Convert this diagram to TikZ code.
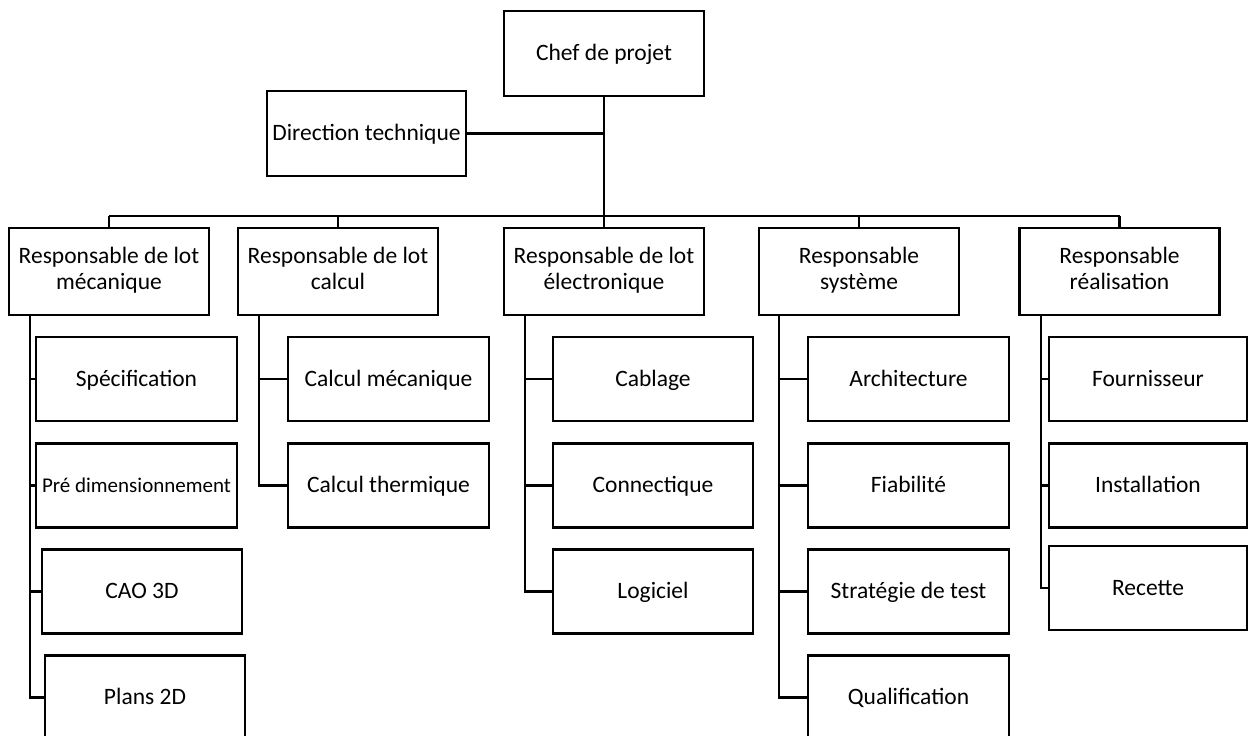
\documentclass[tikz,border=0pt]{standalone}
\usepackage{fontspec}
\setmainfont{Carlito}
\newcommand{\boxstrut}{\vrule width 0pt height 20pt depth 6pt}

\begin{document}
\begin{tikzpicture}[x=1pt, y=-1pt, line width=2.7pt,
    box/.style={draw, line width=2.7pt, inner sep=0pt, align=center,
                minimum width=200pt, minimum height=84pt,
                font=\fontsize{23.5}{26}\selectfont,
                execute at begin node=\boxstrut, execute at end node=\boxstrut},
    wire/.style={line width=2.7pt}]
      % Frame
      \useasboundingbox (0,0) rectangle (1248,736);
      \clip (0,0) rectangle (1248,736);

      % Top
      \node[box, minimum height=85pt] (chef) at (604, 53.5) {Chef de projet};
      \node[box, minimum width=199pt, minimum height=85pt] (dir) at (366.5, 133.5) {Direction technique};

      % Responsables
      \node[box, minimum height=87pt] (meca) at (109, 271.5) {Responsable de lot\\mécanique};
      \node[box, minimum height=87pt] (calc) at (338, 271.5) {Responsable de lot\\calcul};
      \node[box, minimum height=87pt] (elec) at (604, 271.5) {Responsable de lot\\électronique};
      \node[box, minimum height=87pt] (syst) at (859, 271.5) {Responsable\\système};
      \node[box, minimum height=87pt] (real) at (1119.5, 271.5) {Responsable\\réalisation};

      % Lot mecanique
      \node[box, minimum width=201pt] (spec) at (136.5, 379) {Spécification};
      \node[box, minimum width=201pt, font=\fontsize{21}{24}\selectfont] (predim) at (136.5, 485.5) {Pré dimensionnement};
      \node[box] (cao) at (142, 591.5) {CAO 3D};
      \node[box] (plans) at (145, 697.5) {Plans 2D};

      % Lot calcul
      \node[box, minimum width=201pt] (cmeca) at (388.5, 379) {Calcul mécanique};
      \node[box, minimum width=201pt] (cther) at (388.5, 485.5) {Calcul thermique};

      % Lot electronique
      \node[box] (cabl) at (653, 379) {Cablage};
      \node[box] (conn) at (653, 485.5) {Connectique};
      \node[box] (logi) at (653, 591.5) {Logiciel};

      % Systeme
      \node[box, minimum width=201pt] (archi) at (908.5, 379) {Architecture};
      \node[box, minimum width=201pt] (fiab) at (908.5, 485.5) {Fiabilité};
      \node[box, minimum width=201pt] (strat) at (908.5, 591.5) {Stratégie de test};
      \node[box, minimum width=201pt] (qualif) at (908.5, 697.5) {Qualification};

      % Realisation
      \node[box, minimum width=198pt] (fourn) at (1148, 379) {Fournisseur};
      \node[box, minimum width=198pt] (install) at (1148, 485.5) {Installation};
      \node[box, minimum width=198pt] (recet) at (1148, 588) {Recette};

      % Bus
      \coordinate (bus) at (604, 216);
      \draw[wire] (chef.south) -- (bus);
      \draw[wire] (dir.east) -- (dir.east -| chef.south);
      \draw[wire, line width=2.2pt] (meca.north |- bus) -- (real.north |- bus);
      \foreach \n in {meca, calc, elec, syst, real}
        \draw[wire] (\n.north) -- (\n.north |- bus);

      % Trunks
      \coordinate (tmeca) at (30, 315);
      \coordinate (tcalc) at (259, 315);
      \coordinate (telec) at (525, 315);
      \coordinate (tsyst) at (779, 315);
      \coordinate (treal) at (1041, 315);
      \foreach \c in {spec, predim, cao, plans}
        \draw[wire] (tmeca) |- (\c.west);
      \foreach \c in {cmeca, cther}
        \draw[wire] (tcalc) |- (\c.west);
      \foreach \c in {cabl, conn, logi}
        \draw[wire] (telec) |- (\c.west);
      \foreach \c in {archi, fiab, strat, qualif}
        \draw[wire] (tsyst) |- (\c.west);
      \foreach \c in {fourn, install, recet}
        \draw[wire] (treal) |- (\c.west);
\end{tikzpicture}
\end{document}
